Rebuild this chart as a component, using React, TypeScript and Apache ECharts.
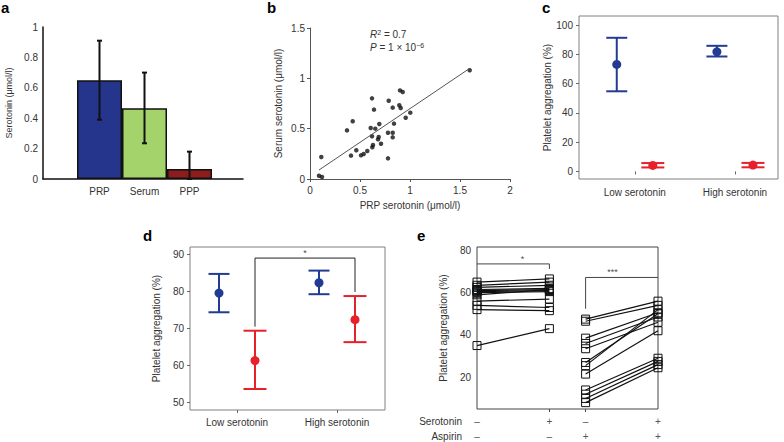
import React, { useEffect, useRef } from "react";
import * as echarts from "echarts";

// ---------- data ----------
// panel a
const aCategories = ["PRP", "Serum", "PPP"];
const aMeans = [0.65, 0.465, 0.065];
const aErrLow = [0.39, 0.235, 0];
const aErrHigh = [0.91, 0.7, 0.18];
const aTicks = [0, 0.2, 0.4, 0.6, 0.8, 1];

// panel b
const bPRP = [0.09, 0.12, 0.113, 0.37, 0.427, 0.41, 0.463, 0.51, 0.537, 0.573, 0.62, 0.607, 0.62, 0.623, 0.63, 0.64, 0.653, 0.687, 0.693, 0.68, 0.71, 0.787, 0.78, 0.78, 0.827, 0.827, 0.827, 0.84, 0.893, 0.907, 0.9, 0.927, 0.957, 1.003, 1.597];
const bSerum = [0.033, 0.02, 0.219, 0.483, 0.573, 0.232, 0.285, 0.235, 0.248, 0.278, 0.801, 0.507, 0.424, 0.315, 0.338, 0.689, 0.5, 0.417, 0.546, 0.394, 0.35, 0.778, 0.46, 0.205, 0.709, 0.46, 0.414, 0.55, 0.732, 0.705, 0.88, 0.864, 0.609, 0.659, 1.08];
const bFitRange = [0.09, 1.59];
const bFitSlope = 0.67;
const bFitIntercept = 0.029;

// panel c
const groups = ["Low serotonin", "High serotonin"];
const cBlueMean = [73.2, 81.8];
const cBlueLow = [54.8, 78.6];
const cBlueHigh = [91.4, 85.9];
const cRedMean = [4.1, 4.3];
const cRedLow = [2.7, 2.8];
const cRedHigh = [5.7, 5.8];
const cTicks = [0, 20, 40, 60, 80, 100];

// panel d
const dBlueMean = [79.6, 82.4];
const dBlueLow = [74.4, 79.3];
const dBlueHigh = [84.8, 85.7];
const dRedMean = [61.3, 72.4];
const dRedLow = [53.6, 66.3];
const dRedHigh = [69.4, 78.8];
const dTicks = [50, 60, 70, 80, 90];
const dSigTop = 89.1;
const dSigLeftEnd = 70.5;
const dSigRightEnd = 79.9;

// panel e
const eConditions = [1, 2, 2.5, 3.5];
const eSerotoninRow = ["–", "+", "–", "+"];
const eAspirinRow = ["–", "–", "+", "+"];
const eNoAspirinBefore = [65, 63.5, 62.5, 61.5, 61, 60.5, 60, 59, 56, 54, 52, 35];
const eNoAspirinAfter = [66.5, 65, 63.5, 62, 61.5, 61, 60.5, 61.5, 57, 53, 51.5, 43];
const eAspirinBefore = [47.5, 46.5, 38.5, 36, 33.5, 27, 25.5, 21.5, 14, 12, 10, 8];
const eAspirinAfter = [56, 54, 50.5, 48.5, 46, 50, 52, 42, 29, 27.5, 26, 24.5];
const eTicks = [20, 40, 60, 80];
const eSig1 = { top: 73.6, end: 71.2, star: "*" };
const eSig2 = { top: 67.2, end: 52.4, star: "***" };

// ---------- style ----------
const FONT = "'Liberation Sans', Arial, Helvetica, sans-serif";
const TXT = "#333";
const BLUE = "#213c92";
const RED = "#e8202b";
const aColors = ["#25358b", "#a4d36b", "#8d1c1c"];
const OFF = 0.18;

const labelStyle = { color: TXT, fontSize: 10, fontFamily: FONT };

function errBars(color: string, capHalf: number, lw: number, r: number) {
  return (params: any, api: any) => {
    const x = api.value(0);
    const mean = api.value(1);
    const lo = api.value(2);
    const hi = api.value(3);
    const pT = api.coord([x, hi]);
    const pB = api.coord([x, lo]);
    const children: any[] = [
      { type: "line", shape: { x1: pT[0], y1: pT[1], x2: pB[0], y2: pB[1] }, style: { stroke: color, lineWidth: lw } },
      { type: "line", shape: { x1: pT[0] - capHalf, y1: pT[1], x2: pT[0] + capHalf, y2: pT[1] }, style: { stroke: color, lineWidth: lw } },
      { type: "line", shape: { x1: pB[0] - capHalf, y1: pB[1], x2: pB[0] + capHalf, y2: pB[1] }, style: { stroke: color, lineWidth: lw } },
    ];
    if (r > 0) {
      const pM = api.coord([x, mean]);
      children.push({ type: "circle", shape: { cx: pM[0], cy: pM[1], r }, style: { fill: color } });
    }
    return { type: "group", children };
  };
}

function rows(mean: number[], lo: number[], hi: number[], offset: number) {
  return mean.map((m, i) => [i + 1 + offset, m, lo[i], hi[i]]);
}

function starSeries(x: number, y: number, text: string, xi: number, yi: number) {
  return {
    type: "scatter",
    xAxisIndex: xi,
    yAxisIndex: yi,
    symbol: "circle",
    symbolSize: 1,
    itemStyle: { color: "rgba(0,0,0,0)" },
    label: { show: true, position: "top", distance: 0, formatter: text, color: "#111", fontSize: 9, fontFamily: FONT },
    data: [[x, y]],
    silent: true,
    z: 5,
  };
}

function buildOption() {
  const grid = [
    { left: 43, top: 27, width: 200, height: 152 }, // a frame
    { left: 77, top: 27, width: 135, height: 152 }, // a bars
    { left: 310, top: 28, width: 200, height: 151 }, // b
    { left: 579, top: 16, width: 199, height: 163, show: true, borderColor: "#808080", borderWidth: 1 }, // c
    { left: 190, top: 247, width: 195, height: 163, show: true, borderColor: "#808080", borderWidth: 1 }, // d
    { left: 477, top: 247, width: 181, height: 162, show: true, borderColor: "#444", borderWidth: 1 }, // e
  ];

  const noSplit = { show: false };
  const groupLabel = (v: number) => groups[Math.round(v) - 1] ?? "";

  const xAxis: any[] = [
    // 0: a frame
    { type: "value", gridIndex: 0, position: "bottom", min: 0, max: 1, axisLine: { show: true, lineStyle: { color: "#111", width: 1.5 } }, axisTick: { show: false }, axisLabel: { show: false }, splitLine: noSplit },
    // 1: a bars
    { type: "category", gridIndex: 1, position: "bottom", data: aCategories, axisLine: { show: false }, axisTick: { show: false }, axisLabel: { ...labelStyle, margin: 7 }, splitLine: noSplit },
    // 2: b
    {
      type: "value", gridIndex: 2, position: "bottom", min: 0, max: 2, interval: 0.5,
      axisLine: { show: true, lineStyle: { color: "#555", width: 1 } },
      axisTick: { show: true, length: 3, lineStyle: { color: "#555" } },
      axisLabel: { ...labelStyle, margin: 6 }, splitLine: noSplit,
      name: "PRP serotonin (μmol/l)", nameLocation: "middle", nameGap: 21,
      nameTextStyle: { ...labelStyle },
    },
    // 3: c
    {
      type: "value", gridIndex: 3, position: "bottom", min: 0.443, max: 2.43,
      axisLine: { show: false },
      axisTick: { show: true, length: 3, customValues: [1, 2], lineStyle: { color: "#666" } },
      axisLabel: { ...labelStyle, margin: 8, customValues: [1, 2], formatter: groupLabel },
      splitLine: noSplit,
    },
    // 4: d
    {
      type: "value", gridIndex: 4, position: "bottom", min: 0.53, max: 2.48,
      axisLine: { show: false },
      axisTick: { show: true, length: 3, customValues: [1, 2], lineStyle: { color: "#666" } },
      axisLabel: { ...labelStyle, margin: 7, customValues: [1, 2], formatter: groupLabel },
      splitLine: noSplit,
    },
    // 5: e main
    {
      type: "value", gridIndex: 5, position: "bottom", min: 1, max: 3.5,
      axisLine: { show: false },
      axisTick: { show: true, length: 3, customValues: [2, 2.5], lineStyle: { color: "#444" } },
      axisLabel: { show: false },
      splitLine: noSplit,
    },
    // 6: e serotonin row
    {
      type: "value", gridIndex: 5, position: "bottom", min: 1, max: 3.5, offset: 12,
      axisLine: { show: false }, axisTick: { show: false }, splitLine: noSplit,
      axisLabel: { ...labelStyle, color: "#555", margin: 0, verticalAlign: "middle", customValues: eConditions, formatter: (v: number) => eSerotoninRow[eConditions.indexOf(v)] ?? "" },
      name: "Serotonin", nameLocation: "start", nameGap: 15, nameTextStyle: { ...labelStyle, align: "right", verticalAlign: "middle" },
    },
    // 7: e aspirin row
    {
      type: "value", gridIndex: 5, position: "bottom", min: 1, max: 3.5, offset: 27,
      axisLine: { show: false }, axisTick: { show: false }, splitLine: noSplit,
      axisLabel: { ...labelStyle, color: "#555", margin: 0, verticalAlign: "middle", customValues: eConditions, formatter: (v: number) => eAspirinRow[eConditions.indexOf(v)] ?? "" },
      name: "Aspirin", nameLocation: "start", nameGap: 15, nameTextStyle: { ...labelStyle, align: "right", verticalAlign: "middle" },
    },
  ];

  const yAxis: any[] = [
    // 0: a
    {
      type: "value", gridIndex: 0, position: "left", min: 0, max: 1, interval: 0.2,
      axisLine: { show: true, lineStyle: { color: "#111", width: 1.5 } }, axisTick: { show: false },
      axisLabel: { ...labelStyle, margin: 5, customValues: aTicks }, splitLine: noSplit,
      name: "Serotonin (μmol/l)", nameLocation: "middle", nameRotate: 90, nameGap: 30,
      nameTextStyle: { ...labelStyle, fontSize: 9 },
    },
    // 1: a bars (hidden)
    { type: "value", gridIndex: 1, position: "left", min: 0, max: 1, show: false, splitLine: noSplit },
    // 2: b
    {
      type: "value", gridIndex: 2, position: "left", min: 0, max: 1.5, interval: 0.5,
      axisLine: { show: true, lineStyle: { color: "#555", width: 1 } },
      axisTick: { show: true, length: 3, lineStyle: { color: "#555" } },
      axisLabel: { ...labelStyle, margin: 5 }, splitLine: noSplit,
      name: "Serum serotonin (μmol/l)", nameLocation: "middle", nameRotate: 90, nameGap: 27,
      nameTextStyle: { ...labelStyle },
    },
    // 3: c
    {
      type: "value", gridIndex: 3, position: "left", min: -5.2, max: 106.3,
      axisLine: { show: false },
      axisTick: { show: true, length: 3, customValues: cTicks, lineStyle: { color: "#666" } },
      axisLabel: { ...labelStyle, margin: 6, customValues: cTicks }, splitLine: noSplit,
      name: "Platelet aggregation (%)", nameLocation: "middle", nameRotate: 90, nameGap: 25,
      nameTextStyle: { ...labelStyle },
    },
    // 4: d
    {
      type: "value", gridIndex: 4, position: "left", min: 47.9, max: 92.1,
      axisLine: { show: false },
      axisTick: { show: true, length: 3, customValues: dTicks, lineStyle: { color: "#666" } },
      axisLabel: { ...labelStyle, margin: 6, customValues: dTicks }, splitLine: noSplit,
      name: "Platelet aggregation (%)", nameLocation: "middle", nameRotate: 90, nameGap: 29,
      nameTextStyle: { ...labelStyle },
    },
    // 5: e
    {
      type: "value", gridIndex: 5, position: "left", min: 5, max: 81.6,
      axisLine: { show: false },
      axisTick: { show: false },
      axisLabel: { ...labelStyle, margin: 6, customValues: eTicks }, splitLine: noSplit,
      name: "Platelet aggregation (%)", nameLocation: "middle", nameRotate: 90, nameGap: 29,
      nameTextStyle: { ...labelStyle },
    },
  ];

  const series: any[] = [];

  // panel a
  series.push({
    type: "bar", xAxisIndex: 1, yAxisIndex: 1, barWidth: "100%",
    itemStyle: { borderColor: "#111", borderWidth: 1.5 },
    data: aMeans.map((v, i) => ({ value: v, itemStyle: { color: aColors[i] } })),
  });
  series.push({
    type: "custom", xAxisIndex: 1, yAxisIndex: 1,
    renderItem: errBars("#111", 2.5, 2, 0),
    encode: { x: 0, y: [1, 2, 3] },
    data: aMeans.map((m, i) => [i, m, aErrLow[i], aErrHigh[i]]),
    z: 5,
  });

  // panel b
  series.push({
    type: "line", xAxisIndex: 2, yAxisIndex: 2, symbol: "none",
    lineStyle: { color: "#555", width: 1 },
    data: bFitRange.map((x) => [x, bFitIntercept + bFitSlope * x]),
  });
  series.push({
    type: "scatter", xAxisIndex: 2, yAxisIndex: 2, symbolSize: 4.5,
    itemStyle: { color: "#111" },
    data: bPRP.map((x, i) => [x, bSerum[i]]),
  });

  // panel c
  series.push({ type: "custom", xAxisIndex: 3, yAxisIndex: 3, renderItem: errBars(BLUE, 10.5, 2, 4.5), encode: { x: 0, y: [1, 2, 3] }, data: rows(cBlueMean, cBlueLow, cBlueHigh, -OFF) });
  series.push({ type: "custom", xAxisIndex: 3, yAxisIndex: 3, renderItem: errBars(RED, 11.5, 2, 4.5), encode: { x: 0, y: [1, 2, 3] }, data: rows(cRedMean, cRedLow, cRedHigh, OFF) });

  // panel d
  series.push({ type: "custom", xAxisIndex: 4, yAxisIndex: 4, renderItem: errBars(BLUE, 10.5, 2, 4.5), encode: { x: 0, y: [1, 2, 3] }, data: rows(dBlueMean, dBlueLow, dBlueHigh, -OFF) });
  series.push({ type: "custom", xAxisIndex: 4, yAxisIndex: 4, renderItem: errBars(RED, 11.5, 2, 4.5), encode: { x: 0, y: [1, 2, 3] }, data: rows(dRedMean, dRedLow, dRedHigh, OFF) });
  series.push({
    type: "line", xAxisIndex: 4, yAxisIndex: 4, symbol: "none",
    lineStyle: { color: "#222", width: 1 },
    data: [[1 + OFF, dSigLeftEnd], [1 + OFF, dSigTop], [2 + OFF, dSigTop], [2 + OFF, dSigRightEnd]],
  });
  series.push(starSeries(1.5 + OFF, dSigTop, "*", 4, 4));

  // panel e
  const pairLine = (x0: number, x1: number, y0: number, y1: number) => ({
    type: "line", xAxisIndex: 5, yAxisIndex: 5, clip: false,
    symbol: "rect", symbolSize: 8,
    itemStyle: { color: "rgba(255,255,255,0)", borderColor: "#111", borderWidth: 1 },
    lineStyle: { color: "#111", width: 1.2 },
    data: [[x0, y0], [x1, y1]],
  });
  eNoAspirinBefore.forEach((v, i) => series.push(pairLine(eConditions[0], eConditions[1], v, eNoAspirinAfter[i])));
  eAspirinBefore.forEach((v, i) => series.push(pairLine(eConditions[2], eConditions[3], v, eAspirinAfter[i])));
  series.push({
    type: "line", xAxisIndex: 5, yAxisIndex: 5, symbol: "none", clip: false,
    lineStyle: { color: "#444", width: 1 },
    data: [[eConditions[0], eSig1.top], [eConditions[1], eSig1.top], [eConditions[1], eSig1.end]],
  });
  series.push({
    type: "line", xAxisIndex: 5, yAxisIndex: 5, symbol: "none", clip: false,
    lineStyle: { color: "#444", width: 1 },
    data: [[eConditions[2], eSig2.end], [eConditions[2], eSig2.top], [eConditions[3], eSig2.top]],
  });
  series.push(starSeries(1.63, eSig1.top, eSig1.star, 5, 5));
  series.push(starSeries(2.87, eSig2.top, eSig2.star, 5, 5));

  const letter = (t: string, x: number, y: number) => ({
    type: "text", left: x, top: y,
    style: { text: t, fontSize: 15, fontWeight: "bold", fill: "#000", fontFamily: FONT },
  });

  const graphic: any[] = [
    letter("a", 1, 0),
    letter("b", 267, 0),
    letter("c", 542, 0),
    letter("d", 143, 228),
    letter("e", 417, 228),
    {
      type: "text", left: 370, top: 29,
      style: {
        text: "{i|R}{s|2} = 0.7",
        fontSize: 10, fill: TXT, fontFamily: FONT,
        rich: { i: { fontStyle: "italic", fontSize: 10, fill: TXT }, s: { fontSize: 7, verticalAlign: "top", fill: TXT } },
      },
    },
    {
      type: "text", left: 370, top: 42,
      style: {
        text: "{i|P} = 1 × 10{s|−6}",
        fontSize: 10, fill: TXT, fontFamily: FONT,
        rich: { i: { fontStyle: "italic", fontSize: 10, fill: TXT }, s: { fontSize: 7, verticalAlign: "top", fill: TXT } },
      },
    },
  ];

  return {
    animation: false,
    backgroundColor: "#fff",
    textStyle: { fontFamily: FONT },
    grid,
    xAxis,
    yAxis,
    series,
    graphic,
  };
}

export default function App() {
  const ref = useRef<HTMLDivElement>(null);
  useEffect(() => {
    if (!ref.current) return;
    const chart = echarts.init(ref.current, undefined, { renderer: "svg" });
    chart.setOption(buildOption() as any);
    return () => chart.dispose();
  }, []);
  return <div ref={ref} style={{ position: "absolute", left: 0, top: 0, width: 784, height: 442 }} />;
}
